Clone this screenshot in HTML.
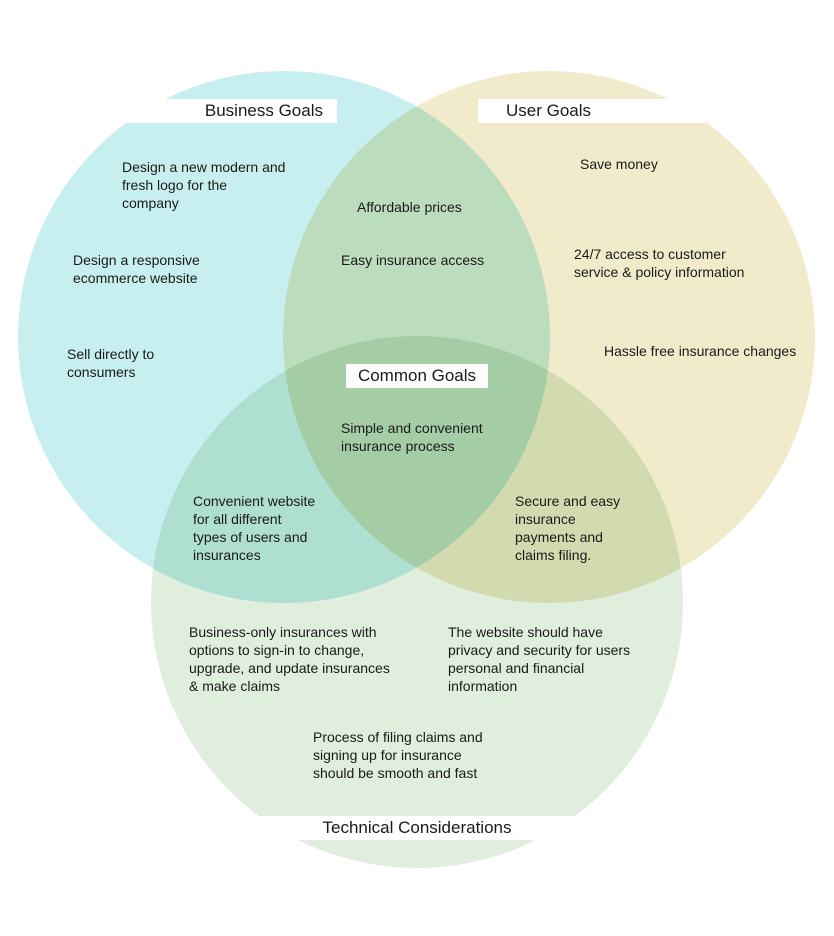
<!DOCTYPE html>
<html><head><meta charset="utf-8"><style>
html,body{margin:0;padding:0;background:#fff}
body{width:834px;height:936px;position:relative;overflow:hidden;font-family:"Liberation Sans",sans-serif;color:#1a1a1a}
svg{position:absolute;left:0;top:0}
.t{position:absolute;font-size:14px;line-height:18px;white-space:nowrap}
.h{position:absolute;background:#fff;font-size:17px;line-height:24px;text-align:center}
</style></head><body>
<svg width="834" height="936">
<g style="isolation:isolate">
<circle cx="284" cy="337" r="266" fill="#c8eff0" style="mix-blend-mode:multiply"/>
<circle cx="549" cy="337" r="266" fill="#f0ebca" style="mix-blend-mode:multiply"/>
<circle cx="417" cy="602" r="266" fill="#e0eedd" style="mix-blend-mode:multiply"/>
</g>
</svg>
<div class="h" style="left:100px;top:99px;width:237px;padding-left:0;text-align:right;"><span style="padding-right:14px">Business Goals</span></div>
<div class="h" style="left:478px;top:99px;width:232px;text-align:left;"><span style="padding-left:28px">User Goals</span></div>
<div class="h" style="left:346px;top:364px;width:142px;">Common Goals</div>
<div class="h" style="left:250px;top:816px;width:334px;">Technical Considerations</div>

<div class="t" style="left:122px;top:158px">Design a new modern and<br>fresh logo for the<br>company</div>
<div class="t" style="left:73px;top:251px">Design a responsive<br>ecommerce website</div>
<div class="t" style="left:67px;top:345px">Sell directly to<br>consumers</div>
<div class="t" style="left:357px;top:198px">Affordable prices</div>
<div class="t" style="left:341px;top:251px">Easy insurance access</div>
<div class="t" style="left:580px;top:155px">Save money</div>
<div class="t" style="left:574px;top:245px">24/7 access to customer<br>service &amp; policy information</div>
<div class="t" style="left:604px;top:342px">Hassle free insurance changes</div>
<div class="t" style="left:341px;top:419px">Simple and convenient<br>insurance process</div>
<div class="t" style="left:193px;top:492px">Convenient website<br>for all different<br>types of users and<br>insurances</div>
<div class="t" style="left:515px;top:492px">Secure and easy<br>insurance<br>payments and<br>claims filing.</div>
<div class="t" style="left:189px;top:623px">Business-only insurances with<br>options to sign-in to change,<br>upgrade, and update insurances<br>&amp; make claims</div>
<div class="t" style="left:448px;top:623px">The website should have<br>privacy and security for users<br>personal and financial<br>information</div>
<div class="t" style="left:313px;top:728px">Process of filing claims and<br>signing up for insurance<br>should be smooth and fast</div>
</body></html>
